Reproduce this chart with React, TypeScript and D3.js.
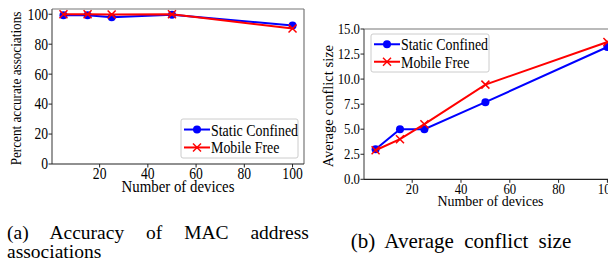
import * as d3 from 'd3';

// number of devices (shared x values)
const devices = [5, 15, 25, 50, 100];

// (a) percent accurate associations
const accuracyStatic = [99.3, 99.3, 98.0, 99.6, 92.5];
const accuracyMobile = [100, 100, 99.8, 100, 90.5];
const accuracyTicks = [0, 20, 40, 60, 80, 100];

// (b) average conflict size
const conflictStatic = [3.0, 5.0, 5.0, 7.7, 13.2];
const conflictMobile = [2.9, 4.0, 5.5, 9.45, 13.7];
const conflictTicks = [0, 2.5, 5, 7.5, 10, 12.5, 15];

const xTicks = [20, 40, 60, 80, 100];
const seriesNames = ['Static Confined', 'Mobile Free'];

const FONT = '"Liberation Serif", "Times New Roman", serif';
const BLUE = '#0000ff';
const RED = '#ff0000';

// narrow text: the figure's fonts look squeezed sideways
function T({
  x,
  y,
  size,
  sx = 1,
  rot = 0,
  anchor = 'start',
  central = false,
  children,
}: {
  x: number;
  y: number;
  size: number;
  sx?: number;
  rot?: number;
  anchor?: string;
  central?: boolean;
  children: any;
}) {
  return (
    <text
      transform={`translate(${x},${y}) rotate(${rot}) scale(${sx},1)`}
      textAnchor={anchor}
      dominantBaseline={central ? 'central' : undefined}
      fontSize={size}
    >
      {children}
    </text>
  );
}

interface PanelProps {
  xRange: [number, number];
  yRange: [number, number];
  yDomain: [number, number];
  yTicks: number[];
  yFormat: (v: number) => string;
  tickSize: number;
  tickScale: number;
  staticVals: number[];
  mobileVals: number[];
  yLabel: string;
  yLabelX: number;
  yLabelScale: number;
  xLabelY: number;
  xLabelSize: number;
  legend: { x: number; y: number; w: number; h: number };
}

function XMark({ cx, cy, s }: { cx: number; cy: number; s: number }) {
  return (
    <g stroke={RED} strokeWidth={1.5}>
      <line x1={cx - s} y1={cy - s} x2={cx + s} y2={cy + s} />
      <line x1={cx - s} y1={cy + s} x2={cx + s} y2={cy - s} />
    </g>
  );
}

function Panel(p: PanelProps) {
  const x = d3.scaleLinear().domain([0.25, 104.75]).range(p.xRange);
  const y = d3.scaleLinear().domain(p.yDomain).range(p.yRange);
  const line = d3
    .line<number>()
    .x((_, i) => x(devices[i]))
    .y((d) => y(d));

  const [x0, x1] = p.xRange;
  const [yb, yt] = p.yRange;
  const lg = p.legend;
  const row1 = lg.y + lg.h * 0.27;
  const row2 = lg.y + lg.h * 0.73;

  return (
    <g fontFamily={FONT} fill="#000">
      {/* spines */}
      <line x1={x0} y1={yt} x2={x1} y2={yt} stroke="#777" strokeWidth={1.2} />
      <line x1={x1} y1={yt} x2={x1} y2={yb} stroke="#777" strokeWidth={1.2} />
      <line x1={x0} y1={yt} x2={x0} y2={yb} stroke="#555" strokeWidth={1.2} />
      <line x1={x0} y1={yb} x2={x1} y2={yb} stroke="#222" strokeWidth={1.2} />

      {/* y ticks */}
      {p.yTicks.map((t) => (
        <g key={'y' + t}>
          <line x1={x0 - 3.5} x2={x0} y1={y(t)} y2={y(t)} stroke="#222" />
          <T x={x0 - 4} y={y(t)} size={p.tickSize} sx={p.tickScale} anchor="end" central>
            {p.yFormat(t)}
          </T>
        </g>
      ))}

      {/* x ticks */}
      {xTicks.map((t) => (
        <g key={'x' + t}>
          <line x1={x(t)} x2={x(t)} y1={yb} y2={yb + 3.5} stroke="#222" />
          <T x={x(t)} y={yb + 15} size={p.tickSize} sx={p.tickScale} anchor="middle">
            {t}
          </T>
        </g>
      ))}

      <T x={(x0 + Math.min(x1, 617)) / 2} y={p.xLabelY} size={p.xLabelSize} sx={0.9} anchor="middle">
        Number of devices
      </T>
      <T x={p.yLabelX} y={(yb + yt) / 2 + 2} size={15} sx={p.yLabelScale} rot={-90} anchor="middle">
        {p.yLabel}
      </T>

      {/* series */}
      <path d={line(p.staticVals) ?? ''} fill="none" stroke={BLUE} strokeWidth={2} />
      {p.staticVals.map((v, i) => (
        <circle key={'s' + i} cx={x(devices[i])} cy={y(v)} r={4} fill={BLUE} />
      ))}
      <path d={line(p.mobileVals) ?? ''} fill="none" stroke={RED} strokeWidth={2} />
      {p.mobileVals.map((v, i) => (
        <XMark key={'m' + i} cx={x(devices[i])} cy={y(v)} s={4} />
      ))}

      {/* legend */}
      <rect x={lg.x} y={lg.y} width={lg.w} height={lg.h} rx={2} fill="#fff" fillOpacity={0.85} stroke="#ccc" />
      <line x1={lg.x + 3} x2={lg.x + 29} y1={row1} y2={row1} stroke={BLUE} strokeWidth={2} />
      <circle cx={lg.x + 16} cy={row1} r={4} fill={BLUE} />
      <T x={lg.x + 30} y={row1} size={17} sx={0.82} central>
        {seriesNames[0]}
      </T>
      <line x1={lg.x + 3} x2={lg.x + 29} y1={row2} y2={row2} stroke={RED} strokeWidth={2} />
      <XMark cx={lg.x + 16} cy={row2} s={4} />
      <T x={lg.x + 30} y={row2} size={17} sx={0.82} central>
        {seriesNames[1]}
      </T>
    </g>
  );
}

export default function App() {
  return (
    <svg
      width={608}
      height={261}
      style={{ position: 'absolute', left: 0, top: 0, background: '#fff' }}
    >
      <Panel
        xRange={[52, 304]}
        yRange={[164, 9]}
        yDomain={[0, 103.5]}
        yTicks={accuracyTicks}
        yFormat={(v) => String(v)}
        tickSize={16}
        tickScale={0.85}
        staticVals={accuracyStatic}
        mobileVals={accuracyMobile}
        yLabel="Percent accurate associations"
        yLabelX={21}
        yLabelScale={0.88}
        xLabelY={192}
        xLabelSize={16.5}
        legend={{ x: 181, y: 119, w: 117, h: 39 }}
      />
      <Panel
        xRange={[364, 619]}
        yRange={[179.3, 29]}
        yDomain={[0, 15]}
        yTicks={conflictTicks}
        yFormat={d3.format('.1f')}
        tickSize={15}
        tickScale={0.85}
        staticVals={conflictStatic}
        mobileVals={conflictMobile}
        yLabel="Average conflict size"
        yLabelX={333}
        yLabelScale={0.97}
        xLabelY={206}
        xLabelSize={15.5}
        legend={{ x: 371, y: 34, w: 118, h: 38 }}
      />

      {/* sub-figure captions */}
      <g fontFamily={FONT} fontSize={19.5} fill="#000">
        <text x={7} y={239} style={{ wordSpacing: '17px' }}>
          (a) Accuracy of MAC address
        </text>
        <text x={7} y={258}>associations</text>
        <text x={461} y={248} textAnchor="middle" fontSize={21} style={{ wordSpacing: '5px' }}>
          (b) Average conflict size
        </text>
      </g>
    </svg>
  );
}
